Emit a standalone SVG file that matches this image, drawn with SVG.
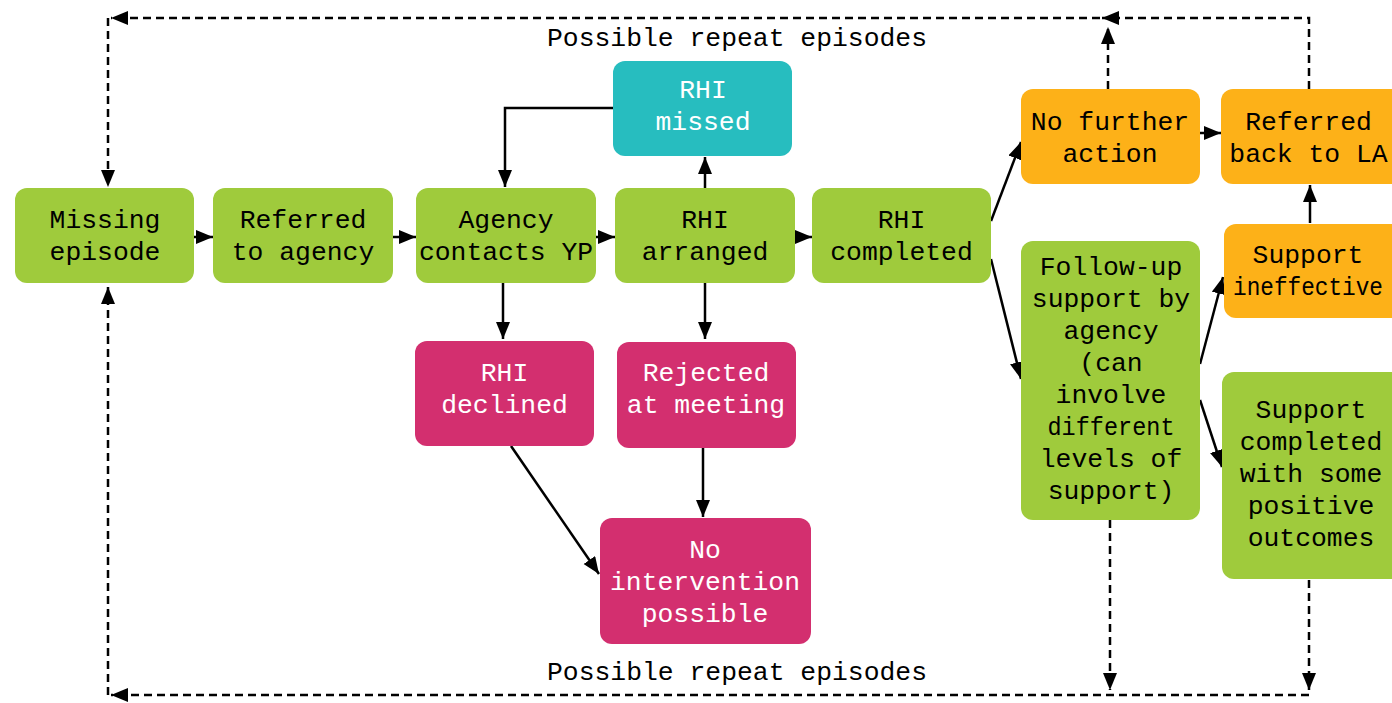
<svg xmlns="http://www.w3.org/2000/svg" width="1392" height="703" viewBox="0 0 1392 703">
<defs>
<marker id="ah" markerUnits="userSpaceOnUse" markerWidth="18" markerHeight="15" refX="17" refY="7" orient="auto" viewBox="0 0 18 15">
<path d="M0,0 L17,7 L0,14 z" fill="#000"/>
</marker>
</defs>
<style>
.g{fill:#9fcb3c}
.p{fill:#d32f6f}
.t{fill:#27bdbf}
.o{fill:#fdb118}
text{font-family:"Liberation Mono","DejaVu Sans Mono",monospace;font-size:26.4px;text-anchor:middle}
.k{fill:#000}
.w{fill:#fff}
.c{fill:none;stroke:#000;stroke-width:2.5;marker-end:url(#ah)}
.d{fill:none;stroke:#000;stroke-width:2.5;stroke-dasharray:8 5;marker-end:url(#ah)}
</style>
<rect width="1392" height="703" fill="#fff"/>
<g id="connectors">
<path class="c" d="M194,237 H213"/>
<path class="c" d="M393,237 H416"/>
<path class="c" d="M596,237 H615"/>
<path class="c" d="M795,237 H812"/>
<path class="c" d="M705,188 V157"/>
<path class="c" d="M613,108 H505 V187"/>
<path class="c" d="M503,283 V339"/>
<path class="c" d="M705,283 V339"/>
<path class="c" d="M511,446 L599,574"/>
<path class="c" d="M703,448 V517"/>
<path class="c" d="M991,221 L1021,142"/>
<path class="c" d="M991,259 L1021,379"/>
<path class="c" d="M1200,133 H1221"/>
<path class="c" d="M1310,223 V185"/>
<path class="c" d="M1200,364 L1223,277"/>
<path class="c" d="M1200,400 L1222,467"/>
<path class="d" d="M1108,89 V27"/>
<path class="d" d="M1309,89 V18 H1102"/>
<path class="d" d="M1100,18 H111"/>
<path class="d" d="M108,18 V187"/>
<path class="d" d="M1110,520 V690"/>
<path class="d" d="M1309,580 V690"/>
<path class="d" d="M1309,695 H111"/>
<path class="d" d="M108,695 V287"/>
</g>
<g id="label-top"><text class="k" x="737" y="46">Possible repeat episodes</text></g>
<g id="label-bottom"><text class="k" x="737" y="680">Possible repeat episodes</text></g>
<g id="missing-episode"><rect class="g" x="15" y="188" width="179" height="95" rx="12"/><text class="k" x="105" y="228">Missing</text><text class="k" x="105" y="260">episode</text></g>
<g id="referred-to-agency"><rect class="g" x="213" y="188" width="180" height="95" rx="12"/><text class="k" x="303" y="228">Referred</text><text class="k" x="303" y="260">to agency</text></g>
<g id="agency-contacts"><rect class="g" x="416" y="188" width="180" height="95" rx="12"/><text class="k" x="506" y="228">Agency</text><text class="k" x="506" y="260">contacts YP</text></g>
<g id="rhi-arranged"><rect class="g" x="615" y="188" width="180" height="95" rx="12"/><text class="k" x="705" y="228">RHI</text><text class="k" x="705" y="260">arranged</text></g>
<g id="rhi-completed"><rect class="g" x="812" y="188" width="179" height="95" rx="12"/><text class="k" x="901.5" y="228">RHI</text><text class="k" x="901.5" y="260">completed</text></g>
<g id="rhi-missed"><rect class="t" x="613" y="61" width="179" height="95" rx="12"/><text class="w" x="703" y="98">RHI</text><text class="w" x="703" y="130">missed</text></g>
<g id="rhi-declined"><rect class="p" x="415" y="341" width="179" height="105" rx="12"/><text class="w" x="504.5" y="381">RHI</text><text class="w" x="504.5" y="413">declined</text></g>
<g id="rejected-at-meeting"><rect class="p" x="617" y="342" width="179" height="106" rx="12"/><text class="w" x="706" y="381">Rejected</text><text class="w" x="706" y="413">at meeting</text></g>
<g id="no-intervention"><rect class="p" x="600" y="518" width="211" height="126" rx="12"/><text class="w" x="705" y="558">No</text><text class="w" x="705" y="590">intervention</text><text class="w" x="705" y="622">possible</text></g>
<g id="no-further-action"><rect class="o" x="1021" y="89" width="179" height="95" rx="12"/><text class="k" x="1110" y="129.5">No further</text><text class="k" x="1110" y="161.5">action</text></g>
<g id="referred-back-to-la"><rect class="o" x="1221" y="89" width="200" height="95" rx="12"/><text class="k" x="1308.5" y="129.5">Referred</text><text class="k" x="1308.5" y="161.5">back to LA</text></g>
<g id="support-ineffective"><rect class="o" x="1224" y="224" width="200" height="94" rx="12"/><text class="k" x="1308" y="263">Support</text><text class="k" x="1308" y="295" textLength="150" lengthAdjust="spacingAndGlyphs">ineffective</text></g>
<g id="follow-up-support"><rect class="g" x="1021" y="241" width="179" height="279" rx="12"/><text class="k" x="1111" y="275">Follow-up</text><text class="k" x="1111" y="307">support by</text><text class="k" x="1111" y="339">agency</text><text class="k" x="1111" y="371">(can</text><text class="k" x="1111" y="403">involve</text><text class="k" x="1111" y="435" textLength="127" lengthAdjust="spacingAndGlyphs">different</text><text class="k" x="1111" y="467">levels of</text><text class="k" x="1111" y="499">support)</text></g>
<g id="support-completed"><rect class="g" x="1222" y="372" width="200" height="207" rx="12"/><text class="k" x="1311" y="418">Support</text><text class="k" x="1311" y="450">completed</text><text class="k" x="1311" y="482">with some</text><text class="k" x="1311" y="514">positive</text><text class="k" x="1311" y="546">outcomes</text></g>
</svg>
